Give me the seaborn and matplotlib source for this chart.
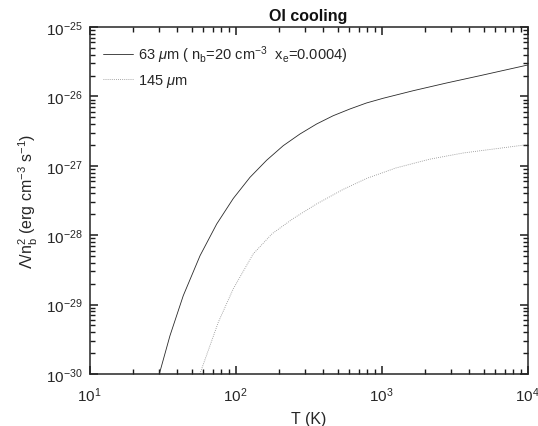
import numpy as np
import pandas as pd
import seaborn as sns
import matplotlib
matplotlib.use("Agg")
import matplotlib.pyplot as plt
from matplotlib.ticker import LogLocator, NullFormatter

# Values (T in K, Lambda/n_b^2 in erg cm^-3 s^-1)
T_63 = [30.06, 35.56, 43.85, 57.15, 74.3, 96.6, 125.6, 163.3, 212.3, 276.1, 358.9,
        466.7, 606.7, 788.9, 1026, 1648, 2786, 4710, 10000]
L_63 = [1.0e-30, 3.56e-30, 1.343e-29, 5.07e-29, 1.449e-28, 3.39e-28, 6.82e-28, 1.202e-27,
        1.95e-27, 2.87e-27, 4.0e-27, 5.27e-27, 6.58e-27, 8.04e-27, 9.40e-27, 1.208e-26,
        1.56e-26, 1.986e-26, 2.83e-26]

T_145 = [57.0, 76.2, 96.4, 132.1, 177.8, 248.3, 358.9, 545.8, 794.3, 1259, 2138, 3631, 10000]
L_145 = [1.0e-30, 5.56e-30, 1.679e-29, 5.37e-29, 1.047e-28, 1.738e-28, 2.818e-28, 4.571e-28,
         6.607e-28, 9.333e-28, 1.245e-27, 1.531e-27, 2.02e-27]

label_63 = r"63 $\mu$m ( n$_\mathrm{b}$=20 cm$^{-3}$  x$_\mathrm{e}$=0.0004)"
label_145 = r"145 $\mu$m"

df = pd.concat([
    pd.DataFrame({"T": T_63, "L": L_63, "line": label_63}),
    pd.DataFrame({"T": T_145, "L": L_145, "line": label_145}),
])

sns.set_theme(style="ticks")
plt.rcParams["font.family"] = ["Liberation Sans", "DejaVu Sans"]
plt.rcParams["mathtext.fontset"] = "custom"
plt.rcParams["mathtext.rm"] = "Liberation Sans"
plt.rcParams["mathtext.it"] = "Liberation Sans:italic"
plt.rcParams["mathtext.bf"] = "Liberation Sans:bold"

fig = plt.figure(figsize=(5.38, 4.27), dpi=100)
ax = fig.add_axes([0.1664, 0.1218, 0.8141, 0.8126])

sns.lineplot(data=df, x="T", y="L", hue="line", style="line",
             palette={label_63: "#2a2a2a", label_145: "#8a8a8a"},
             dashes={label_63: "", label_145: (1, 1.5)},
             linewidth=0.6, ax=ax, estimator=None, sort=False)

ax.set_xscale("log")
ax.set_yscale("log")
ax.set_xlim(10, 1e4)
ax.set_ylim(1e-30, 1e-25)

ax.xaxis.set_major_locator(LogLocator(base=10, numticks=10))
ax.xaxis.set_minor_locator(LogLocator(base=10, subs=np.arange(2, 10), numticks=100))
ax.yaxis.set_major_locator(LogLocator(base=10, numticks=10))
ax.yaxis.set_minor_locator(LogLocator(base=10, subs=np.arange(2, 10), numticks=100))
ax.xaxis.set_minor_formatter(NullFormatter())
ax.yaxis.set_minor_formatter(NullFormatter())

ax.tick_params(which="both", direction="in", bottom=True, left=True, top=True, right=True,
               colors="#1a1a1a", labelsize=11, labelcolor="#262626")
ax.tick_params(which="major", length=5.5, width=1.1)
ax.tick_params(which="minor", length=3.5, width=1.0)
ax.tick_params(axis="x", which="major", pad=8)
ax.tick_params(axis="y", which="major", pad=5)
for s in ax.spines.values():
    s.set_visible(True)
    s.set_linewidth(1.1)
    s.set_color("#262626")

ax.set_xlabel("T (K)", fontsize=11.5, color="#262626", labelpad=5)
ax.set_ylabel(r"$\Lambda$/n$_\mathrm{b}^2$ (erg cm$^{-3}$ s$^{-1}$)", fontsize=11.5,
              color="#262626", labelpad=4)
ax.set_title("OI cooling", fontsize=11.5, fontweight="bold", color="#111111", pad=5)

leg = ax.legend(loc="upper left", bbox_to_anchor=(0.0, 0.99), frameon=False, fontsize=10.5,
                handlelength=2.1, handletextpad=0.3, borderaxespad=0.5, labelspacing=0.45,
                title=None)

fig.savefig("out.png", dpi=100)
